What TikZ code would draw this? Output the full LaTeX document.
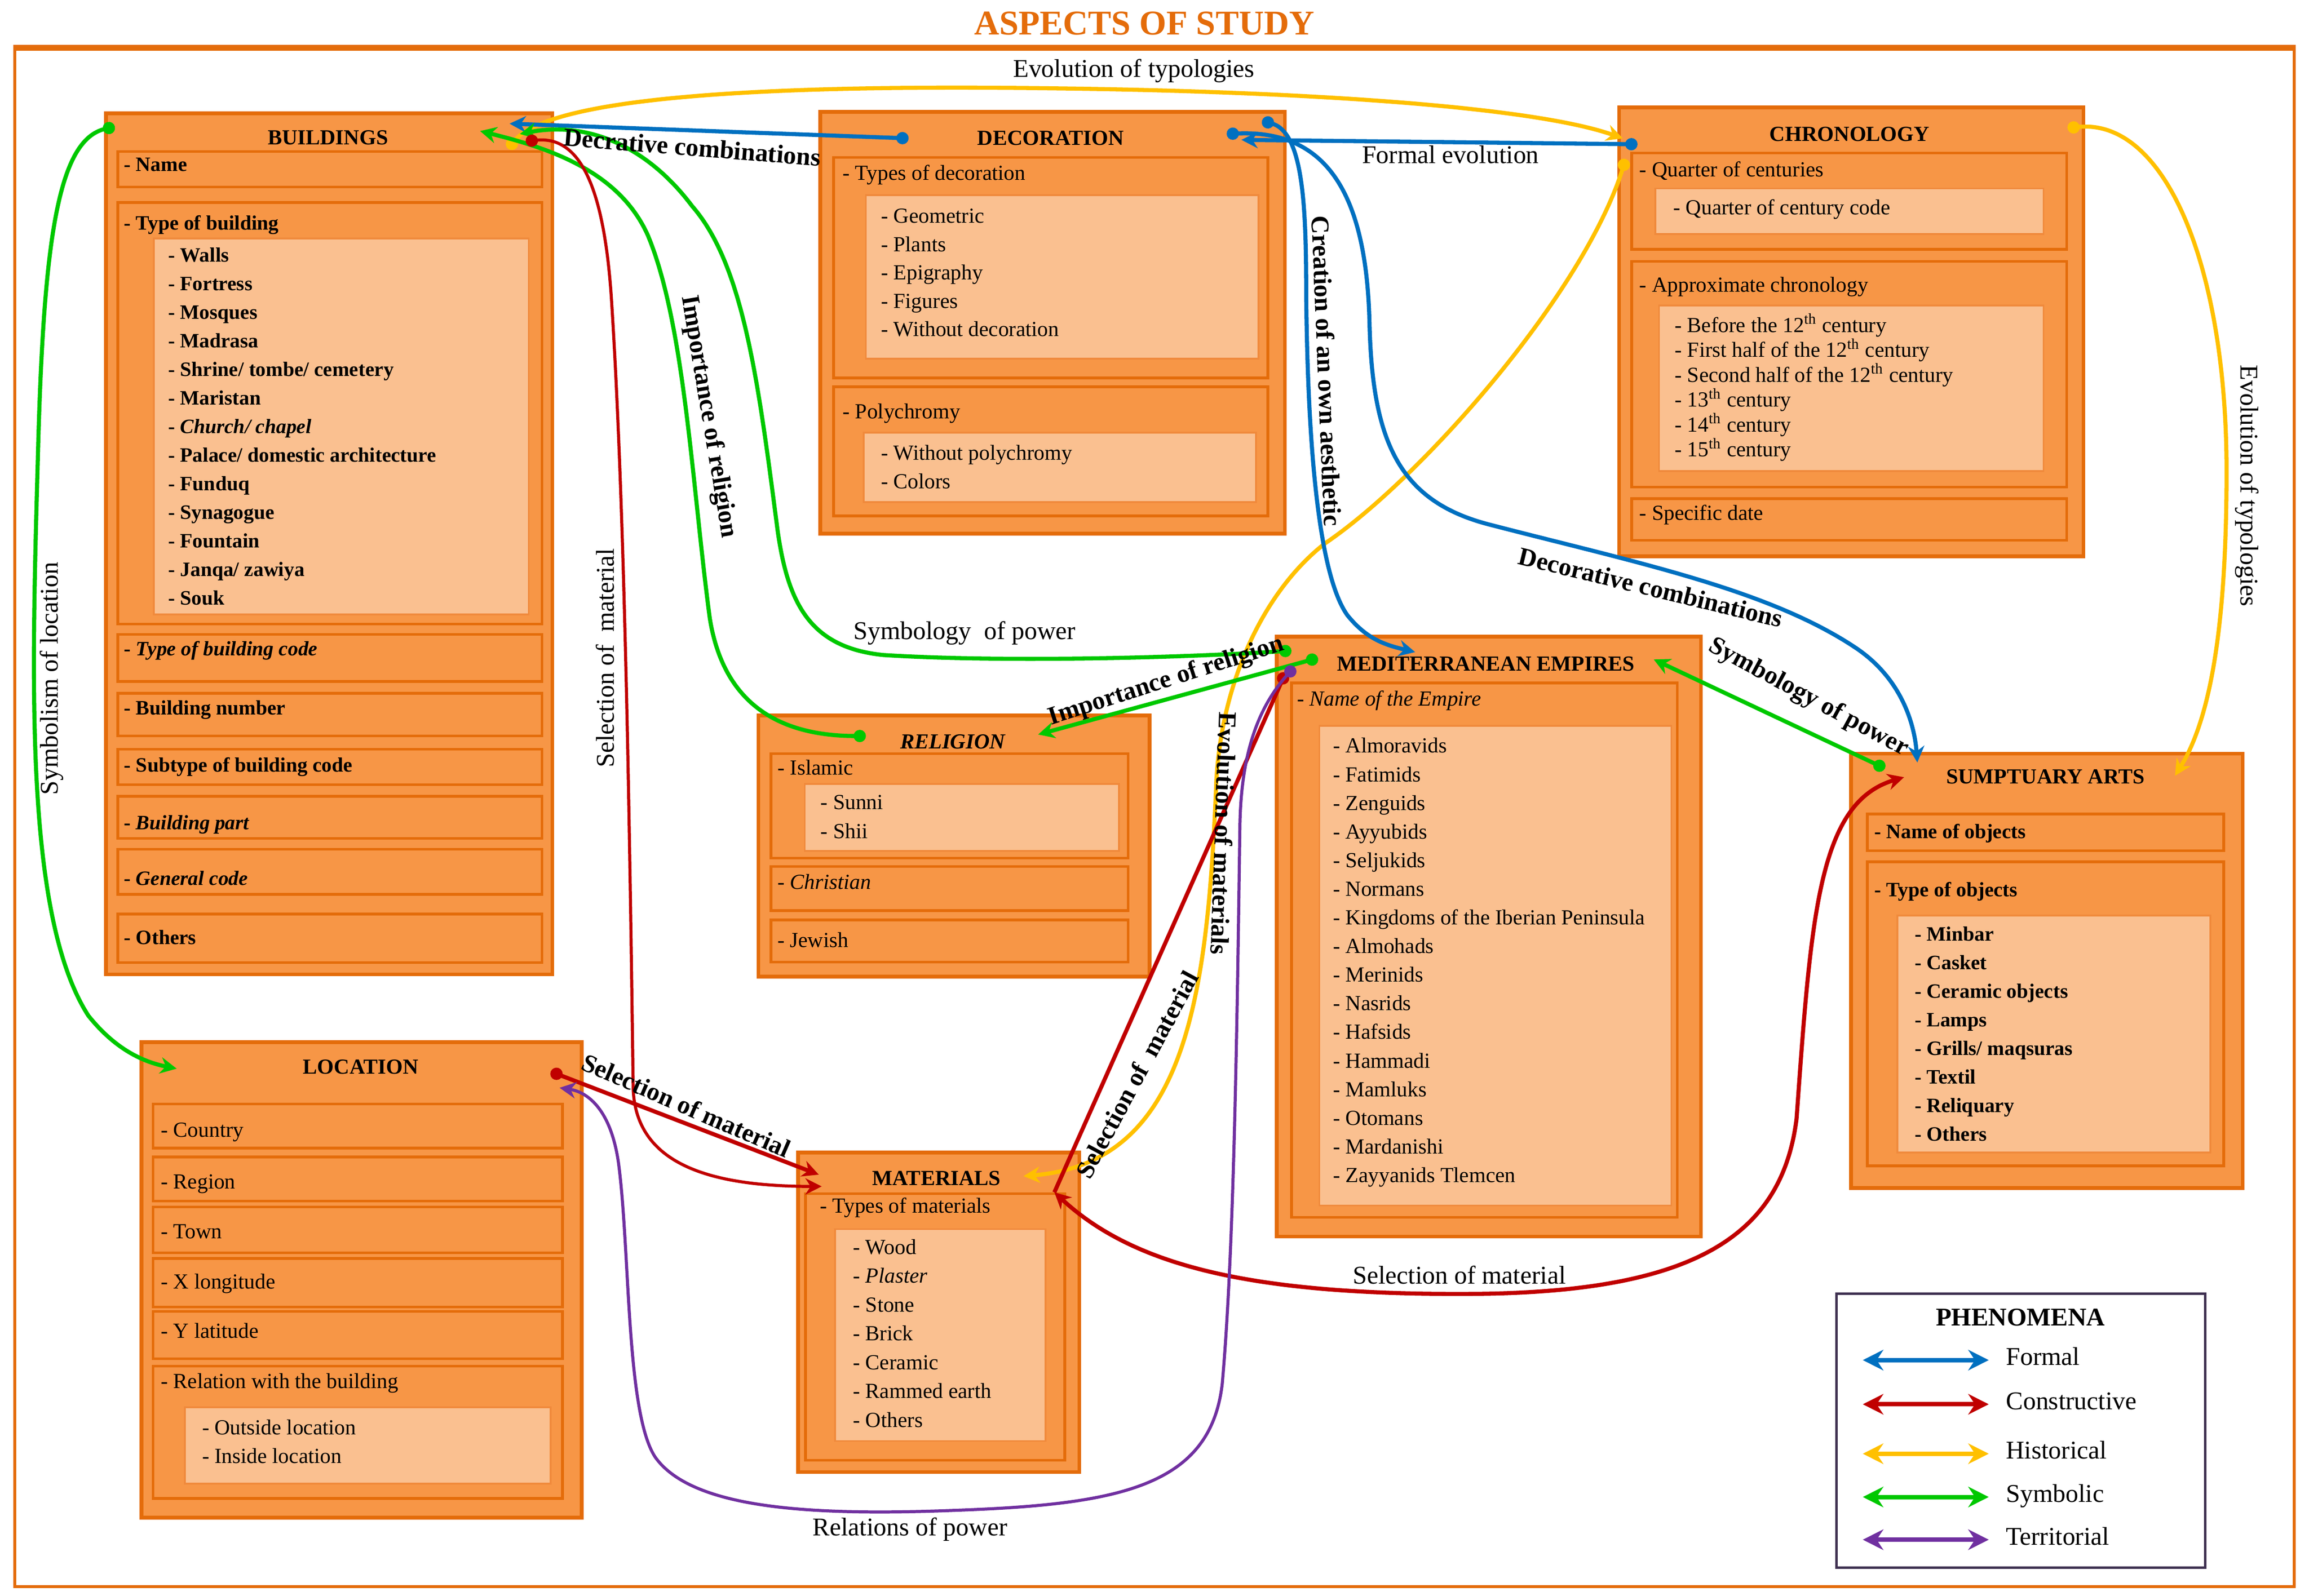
\documentclass[tikz,border=0pt]{standalone}
\usepackage{fontspec}
\setmainfont{Liberation Serif}
\usetikzlibrary{arrows.meta,fit}
\definecolor{orD}{HTML}{E46C0A}
\definecolor{orM}{HTML}{F79646}
\definecolor{orL}{HTML}{FAC090}
\definecolor{orE}{HTML}{F08A3C}
\definecolor{cBlue}{HTML}{0070C0}
\definecolor{cRed}{HTML}{C00000}
\definecolor{cYel}{HTML}{FFC000}
\definecolor{cGre}{HTML}{00C800}
\definecolor{cPur}{HTML}{7030A0}
\definecolor{legB}{HTML}{3F3151}
\newcommand\fsItem{\fontsize{10.5}{12}\selectfont}
\newcommand\fsBold{\fontsize{10}{12}\selectfont\bfseries}
\newcommand\fsLbl{\fontsize{12.5}{14}\selectfont}
\begin{document}
\begin{tikzpicture}[x=0.72pt,y=-0.72pt,
  outerbox/.style={draw=orD, fill=orM, line width=1.8pt, inner sep=0pt},
  subbox/.style={draw=orD, fill=orM, line width=1.3pt, inner sep=0pt},
  lightbox/.style={draw=orE, fill=orL, line width=0.9pt, inner sep=0pt},
  item/.style={anchor=west, inner sep=0pt, text height=0.7em, text depth=0.2em, font=\fsItem},
  bitem/.style={anchor=west, inner sep=0pt, text height=0.7em, text depth=0.2em, font=\fsBold},
  hdr/.style={inner sep=0pt, font=\fsItem\bfseries},
  lbl/.style={inner sep=0pt, font=\fsLbl},
  blbl/.style={inner sep=0pt, font=\fsLbl\bfseries},
  conn/.style={line width=2pt},
  thin/.style={line width=1.5pt},
  da/.style={arrows={Circle[length=6pt]-Stealth[length=8pt,width=8pt]}},
  ad/.style={arrows={Stealth[length=8pt,width=8pt]-Circle[length=6pt]}},
  aa/.style={arrows={Stealth[length=8pt,width=8pt]-Stealth[length=8pt,width=8pt]}},
  aaL/.style={arrows={Stealth[length=10pt,width=10pt]-Stealth[length=10pt,width=10pt]}},
  ta/.style={arrows={-Stealth[length=8pt,width=8pt]}},
  dn/.style={arrows={Circle[length=6pt]-}}
]
\useasboundingbox (0,0) rectangle (1568,1084);

% title and frame
\node[inner sep=0pt, font=\fontsize{17}{20}\selectfont\bfseries, text=orD] (title) at (777,16) {ASPECTS OF STUDY};
\node[draw=orD, line width=1.4pt, fit={(10,33.5) (1558,1078)}, inner sep=0pt] (frame) {};
\draw[orD, line width=2.8pt] (frame.north west) -- (frame.north east);

% ================= BUILDINGS =================
\node[outerbox, fit={(72,77) (375,662)}] (bld) {};
\node[hdr] (bldH) at (222.7,93.4) {BUILDINGS};
\node[subbox, fit={(80,103) (368,127)}] (bldS1) {};
\node[bitem] (bldT1) at (84,113) {- Name};
\node[subbox, fit={(80,137.6) (368,424)}] (bldS2) {};
\node[bitem] (bldT2) at (84,152.7) {- Type of building};
\node[lightbox, fit={(104.5,162) (359,417.5)}] (bldL2) {};
\foreach \t [count=\i from 0] in {Walls,Fortress,Mosques,Madrasa,Shrine/ tombe/ cemetery,Maristan,{\textit{Church/ chapel}},Palace/ domestic architecture,Funduq,Synagogue,Fountain,Janqa/ zawiya,Souk}
  \node[bitem] (bldI\i) at (114,174.4+19.43*\i) {- \t};
\node[subbox, fit={(80,431) (368,463)}] (bldS3) {};
\node[bitem] (bldT3) at (84,442) {- \textit{Type of building code}};
\node[subbox, fit={(80,471) (368,500)}] (bldS4) {};
\node[bitem] (bldT4) at (84,482) {- Building number};
\node[subbox, fit={(80,509) (368,533)}] (bldS5) {};
\node[bitem] (bldT5) at (84,521) {- Subtype of building code};
\node[subbox, fit={(80,541) (368,569.6)}] (bldS6) {};
\node[bitem] (bldT6) at (84,560) {- \textit{Building part}};
\node[subbox, fit={(80,577) (368,607.6)}] (bldS7) {};
\node[bitem] (bldT7) at (84,598) {- \textit{General code}};
\node[subbox, fit={(80,621) (368,654)}] (bldS8) {};
\node[bitem] (bldT8) at (84,638) {- Others};

% ================= DECORATION =================
\node[outerbox, fit={(557,76) (872.5,362.6)}] (dec) {};
\node[hdr] (decH) at (713.5,93.7) {DECORATION};
\node[subbox, fit={(566,107) (861,256.8)}] (decS1) {};
\node[item] (decT1) at (572,119) {- Types of decoration};
\node[lightbox, fit={(588,132.6) (854.7,243.7)}] (decL1) {};
\foreach \t [count=\i from 0] in {Geometric,Plants,Epigraphy,Figures,Without decoration}
  \node[item] (decI\i) at (598,148+19.25*\i) {- \t};
\node[subbox, fit={(566,262.8) (861,350.5)}] (decS2) {};
\node[item] (decT2) at (572,280.8) {- Polychromy};
\node[lightbox, fit={(586.5,294) (853,341)}] (decL2) {};
\node[item] (decI5) at (598,309) {- Without polychromy};
\node[item] (decI6) at (598,328.5) {- Colors};

% ================= CHRONOLOGY =================
\node[outerbox, fit={(1099.5,73) (1414.8,378)}] (chr) {};
\node[hdr] (chrH) at (1256,91) {CHRONOLOGY};
\node[subbox, fit={(1108,104) (1403.5,169.4)}] (chrS1) {};
\node[item] (chrT1) at (1113,116.6) {- Quarter of centuries};
\node[lightbox, fit={(1124,128) (1387.7,159)}] (chrL1) {};
\node[item] (chrI0) at (1136,142.4) {- Quarter of century code};
\node[subbox, fit={(1108,177.5) (1403.5,330.8)}] (chrS2) {};
\node[item] (chrT2) at (1113,194.8) {- Approximate chronology};
\node[lightbox, fit={(1126.6,207.6) (1387.7,320)}] (chrL2) {};
\foreach \t [count=\i from 1] in {Before the 12\textsuperscript{th} century,First half of the 12\textsuperscript{th} century,Second half of the 12\textsuperscript{th} century,13\textsuperscript{th} century,14\textsuperscript{th} century,15\textsuperscript{th} century}
  \node[item] (chrI\i) at (1137,222.3+16.9*\i-16.9) {- \t};
\node[subbox, fit={(1108,338.8) (1403.5,367)}] (chrS3) {};
\node[item] (chrT3) at (1113,350) {- Specific date};

% ================= RELIGION =================
\node[outerbox, fit={(515,486) (780.7,663.5)}] (rel) {};
\node[hdr, font=\fsItem\bfseries\itshape] (relH) at (647,504) {RELIGION};
\node[subbox, fit={(523.6,512) (766,583)}] (relS1) {};
\node[item] (relT1) at (527.7,523) {- Islamic};
\node[lightbox, fit={(546.5,532.6) (760,578)}] (relL1) {};
\node[item] (relI0) at (557,546.4) {- Sunni};
\node[item] (relI1) at (557,566) {- Shii};
\node[subbox, fit={(523.6,588.6) (766,618.6)}] (relS2) {};
\node[item] (relT2) at (527.7,600.6) {- \textit{Christian}};
\node[subbox, fit={(523.6,625) (766,653.5)}] (relS3) {};
\node[item] (relT3) at (527.7,640) {- Jewish};

% ================= MEDITERRANEAN EMPIRES =================
\node[outerbox, fit={(867,432.5) (1155,840)}] (med) {};
\node[hdr] (medH) at (1009,451) {MEDITERRANEAN EMPIRES};
\node[subbox, fit={(877,464) (1139,827)}] (medS1) {};
\node[item] (medT1) at (880.5,476) {- \textit{Name of the Empire}};
\node[lightbox, fit={(896,493) (1135,819)}] (medL1) {};
\foreach \t [count=\i from 0] in {Almoravids,Fatimids,Zenguids,Ayyubids,Seljukids,Normans,Kingdoms of the Iberian Peninsula,Almohads,Merinids,Nasrids,Hafsids,Hammadi,Mamluks,Otomans,Mardanishi,Zayyanids Tlemcen}
  \node[item] (medI\i) at (905,508+19.45*\i) {- \t};

% ================= LOCATION =================
\node[outerbox, fit={(96,708) (395,1031)}] (loc) {};
\node[hdr] (locH) at (245,724.7) {LOCATION};
\foreach \t/\ya/\yb/\yt [count=\i from 1] in {Country/750/780/769,Region/786/816/804,Town/820/851/838,X longitude/855/888/872,Y latitude/891/923/905.6}
{
  \node[subbox, fit={(104,\ya) (382,\yb)}] (locS\i) {};
  \node[item] (locT\i) at (109,\yt) {- \t};
}
\node[subbox, fit={(104,928) (382,1018)}] (locS6) {};
\node[item] (locT6) at (109,939.7) {- Relation with the building};
\node[lightbox, fit={(125.6,956) (374,1008)}] (locL6) {};
\node[item] (locI0) at (137,971) {- Outside location};
\node[item] (locI1) at (137,990.6) {- Inside location};

% ================= MATERIALS =================
\node[outerbox, fit={(542,783) (733,1000)}] (mat) {};
\node[hdr] (matH) at (636,800.5) {MATERIALS};
\node[subbox, fit={(547,811) (723,992)}] (matS1) {};
\node[item] (matT1) at (556.5,820.4) {- Types of materials};
\node[lightbox, fit={(567,835) (710,979)}] (matL1) {};
\foreach \t [count=\i from 0] in {Wood,{\textit{Plaster}},Stone,Brick,Ceramic,Rammed earth,Others}
  \node[item] (matI\i) at (579,848.5+19.6*\i) {- \t};

% ================= SUMPTUARY ARTS =================
\node[outerbox, fit={(1257,512) (1523,807)}] (sum) {};
\node[hdr] (sumH) at (1389,527.8) {SUMPTUARY ARTS};
\node[subbox, fit={(1268,553) (1510,578)}] (sumS1) {};
\node[bitem] (sumT1) at (1272.5,566) {- Name of objects};
\node[subbox, fit={(1268,585.5) (1510,792)}] (sumS2) {};
\node[bitem] (sumT2) at (1272.5,605.6) {- Type of objects};
\node[lightbox, fit={(1288.5,622) (1501,783)}] (sumL2) {};
\foreach \t [count=\i from 0] in {Minbar,Casket,Ceramic objects,Lamps,Grills/ maqsuras,Textil,Reliquary,Others}
  \node[bitem] (sumI\i) at (1300,635.8+19.4*\i) {- \t};

% ================= LEGEND =================
\node[draw=legB, line width=1.2pt, fill=white, fit={(1247,879) (1497.5,1065)}, inner sep=0pt] (leg) {};
\node[inner sep=0pt, font=\fsLbl\bfseries] (legT) at (1372,895) {PHENOMENA};
\foreach \c/\n/\yy [count=\i from 1] in {cBlue/Formal/924,cRed/Constructive/954,cYel/Historical/987.6,cGre/Symbolic/1017,cPur/Territorial/1046}
{
  \coordinate (lgA\i) at (1265,\yy);
  \coordinate (lgB\i) at (1350.5,\yy);
  \draw[\c, line width=2.2pt, aaL] (lgA\i) -- (lgB\i);
  \node[lbl, anchor=west, text height=0.7em, text depth=0.2em] (lgL\i) at (1362,\yy) {\n};
}

% ================= CONNECTOR END POINTS =================
\coordinate (bldY) at (345,101);
\coordinate (chrY1) at (1102,94);
\coordinate (chrY2) at (1104,108);
\coordinate (matY) at (695,799);
\coordinate (chrY3) at (1404,87);
\coordinate (sumY) at (1477,527);
\coordinate (decB1) at (617,94);
\coordinate (bldB) at (346,84);
\coordinate (chrB) at (1112,98);
\coordinate (decB2) at (843,95);
\coordinate (decB3) at (857,82);
\coordinate (medB) at (961,443);
\coordinate (decB4) at (833,91);
\coordinate (sumB) at (1302,518);
\coordinate (bldG1) at (78,86);
\coordinate (locG) at (120,726);
\coordinate (bldG2) at (326,89);
\coordinate (relG1) at (588,500);
\coordinate (bldG3) at (353,91);
\coordinate (medG1) at (877,442);
\coordinate (medG2) at (895,447);
\coordinate (relG2) at (705,499);
\coordinate (medG3) at (1123,448);
\coordinate (sumG) at (1280,522);
\coordinate (bldR) at (357,96);
\coordinate (matR1) at (558,806);
\coordinate (locR) at (374,728);
\coordinate (matR2) at (556,798);
\coordinate (medR) at (873,457);
\coordinate (matR3) at (716,810);
\coordinate (sumR) at (1293,528);
\coordinate (medP) at (879,453);
\coordinate (locP) at (380,739);

% ================= CONNECTORS =================
% Historical (yellow)
\draw[cYel, conn, da] (bldY) .. controls (372,68) and (500,57) .. (715,60) .. controls (880,62) and (1040,72) .. (chrY1);
\draw[cYel, conn, da] (chrY2) .. controls (1075,200) and (965,325) .. (900,369) .. controls (860,400) and (830,460) .. (826,530) .. controls (820,680) and (805,790) .. (matY);
\draw[cYel, conn, da] (chrY3) .. controls (1470,80) and (1512,180) .. (1512,320) .. controls (1512,430) and (1500,490) .. (sumY);
% Formal (blue)
\draw[cBlue, conn, da] (decB1) -- (bldB);
\draw[cBlue, conn, da] (chrB) -- (decB2);
\draw[cBlue, conn, da] (decB3) .. controls (885,90) and (887,140) .. (887,200) .. controls (888,300) and (895,390) .. (915,418) .. controls (928,434) and (940,438) .. (medB);
\draw[cBlue, conn, da] (decB4) .. controls (900,88) and (928,130) .. (930,220) .. controls (932,300) and (950,340) .. (1010,356) .. controls (1110,382) and (1200,400) .. (1260,440) .. controls (1290,460) and (1300,490) .. (sumB);
% Symbolic (green)
\draw[cGre, conn, da] (bldG1) .. controls (40,95) and (30,160) .. (26,300) .. controls (22,450) and (15,620) .. (60,690) .. controls (80,715) and (100,722) .. (locG);
\draw[cGre, conn, da] (relG1) .. controls (520,500) and (490,470) .. (482,420) .. controls (470,330) and (465,220) .. (440,160) .. controls (420,115) and (370,100) .. (bldG2);
\draw[cGre, conn, da] (medG1) .. controls (800,447) and (680,450) .. (600,445) .. controls (550,440) and (535,410) .. (528,360) .. controls (515,260) and (505,180) .. (470,140) .. controls (440,100) and (400,82) .. (bldG3);
\draw[cGre, conn, da] (medG2) -- (relG2);
\draw[cGre, conn, ad] (medG3) -- (sumG);
% Constructive (red)
\draw[cRed, thin, da] (bldR) .. controls (395,92) and (410,130) .. (415,200) .. controls (425,350) and (428,600) .. (430,740) .. controls (432,790) and (480,806) .. (matR1);
\draw[cRed, conn, da] (locR) -- (matR2);
\draw[cRed, conn, dn] (medR) -- (matR3);
\draw[cRed, conn, aa] (matR3) .. controls (770,860) and (850,880) .. (1000,879) .. controls (1150,878) and (1210,840) .. (1220,760) .. controls (1230,620) and (1235,545) .. (sumR);
% Territorial (purple)
\draw[cPur, thin, da] (medP) .. controls (855,480) and (843,510) .. (842,560) .. controls (840,700) and (838,850) .. (830,940) .. controls (822,1010) and (760,1022) .. (650,1026) .. controls (550,1030) and (470,1025) .. (445,990) .. controls (425,960) and (428,850) .. (420,790) .. controls (415,755) and (400,742) .. (locP);

% ================= CONNECTOR LABELS =================
\node[lbl] (lTyp1) at (770,48) {Evolution of typologies};
\node[blbl, rotate=-4.5] (lDec1) at (470,100) {Decrative combinations};
\node[lbl] (lForm) at (985,105) {Formal evolution};
\node[blbl, rotate=-87.7] (lCre) at (901,252) {Creation of an own aesthetic};
\node[blbl, rotate=-13.6] (lDec2) at (1121,399) {Decorative combinations};
\node[lbl, rotate=-90] (lTyp2) at (1526,330) {Evolution of typologies};
\node[lbl, rotate=90] (lSymLoc) at (35,461) {Symbolism of location};
\node[blbl, rotate=-80.5] (lRel1) at (481,283) {Importance of religion};
\node[lbl, rotate=90] (lSel1) at (411,447) {Selection of\ \ material};
\node[lbl] (lPow1) at (655,430) {Symbology\ \ of power};
\node[blbl, rotate=17.8] (lRel2) at (792,463) {Importance of religion};
\node[blbl, rotate=-28.4] (lPow2) at (1228,474) {Symbology of power};
\node[blbl, rotate=-92] (lEvoM) at (831,566) {Evolution of materials};
\node[blbl, rotate=-23.5] (lSel2) at (466,751) {Selection of material};
\node[blbl, rotate=61.7] (lSel3) at (772,730) {Selection of\ \ material};
\node[lbl] (lSel4) at (991,866) {Selection of material};
\node[lbl] (lRelP) at (618,1039) {Relations of power};
\end{tikzpicture}
\end{document}
